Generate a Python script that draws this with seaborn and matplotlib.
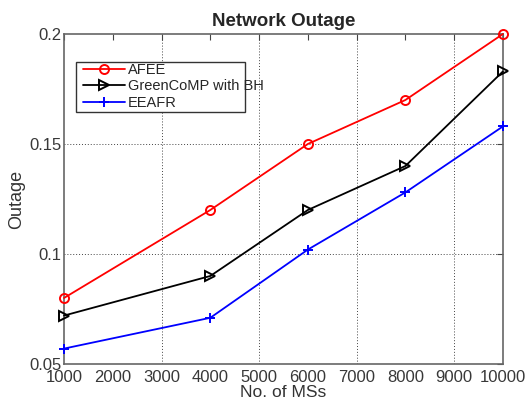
import matplotlib
matplotlib.use("Agg")
import matplotlib.pyplot as plt
from matplotlib.patches import Rectangle
import seaborn as sns
import pandas as pd

# Network outage vs. number of mobile stations
num_ms = [1000, 4000, 6000, 8000, 10000]
afee = [0.080, 0.120, 0.150, 0.170, 0.200]
greencomp_bh = [0.072, 0.090, 0.120, 0.140, 0.183]
eeafr = [0.057, 0.071, 0.102, 0.128, 0.158]

series_names = ["AFEE", "GreenCoMP with BH", "EEAFR"]
x_ticks = list(range(1000, 10001, 1000))
y_ticks = [0.05, 0.1, 0.15, 0.2]
y_tick_labels = ["0.05", "0.1", "0.15", "0.2"]

sns.set_style("white")
plt.rcParams["font.family"] = ["Liberation Sans", "DejaVu Sans"]

fig = plt.figure(figsize=(5.28, 4.03), dpi=100)
ax = fig.add_axes([0.1212, 0.0968, 0.8314, 0.8189])

styles = [("#ff0000", "o"), ("#000000", ">"), ("#0000ff", "+")]
for name, vals, (col, mk) in zip(series_names, [afee, greencomp_bh, eeafr], styles):
    df = pd.DataFrame({"No. of MSs": num_ms, "Outage": vals})
    sns.lineplot(data=df, x="No. of MSs", y="Outage", color=col, marker=mk,
                 linewidth=1.3, markersize=6.5, markerfacecolor="none",
                 markeredgecolor=col, markeredgewidth=1.4, label=name, ax=ax,
                 clip_on=False, zorder=3)

ax.set_xlim(1000, 10000)
ax.set_ylim(0.05, 0.2)
ax.set_xticks(x_ticks)
ax.set_xticklabels([str(t) for t in x_ticks])
ax.set_yticks(y_ticks)
ax.set_yticklabels(y_tick_labels)

# dotted grid at odd-thousand positions and interior y ticks
for gx in [3000, 5000, 7000, 9000]:
    ax.axvline(gx, color="#444444", linestyle=(0, (1, 2)), linewidth=0.7, zorder=0)
for gy in [0.1, 0.15]:
    ax.axhline(gy, color="#444444", linestyle=(0, (1, 2)), linewidth=0.7, zorder=0)

ax.tick_params(direction="in", length=4, width=0.8, top=True, right=True,
               labelsize=12, colors="#444444", labelcolor="#383838")
ax.tick_params(axis="x", pad=4.5)
ax.tick_params(axis="y", pad=2)
for sp in ax.spines.values():
    sp.set_color("#666666")
    sp.set_linewidth(1.2)

ax.set_title("Network Outage", fontsize=13.5, fontweight="bold", pad=6)
ax.set_xlabel("No. of MSs", fontsize=12.5, color="#333333", labelpad=0)
ax.set_ylabel("Outage", fontsize=13, color="#333333", labelpad=3)

# legend box (white, covers the grid) with entries placed inside
box = Rectangle((0.027, 0.764), 0.385, 0.151, transform=ax.transAxes,
                facecolor="white", edgecolor="#333333", linewidth=1.0, zorder=2.5)
ax.add_patch(box)
leg = ax.legend(loc="upper left", bbox_to_anchor=(0.043, 0.912), fontsize=10.5,
                frameon=False, handlelength=2.9, borderpad=0, labelspacing=0.16,
                handletextpad=0.2, borderaxespad=0)
leg.set_zorder(4)

fig.savefig("out.png", dpi=100)
